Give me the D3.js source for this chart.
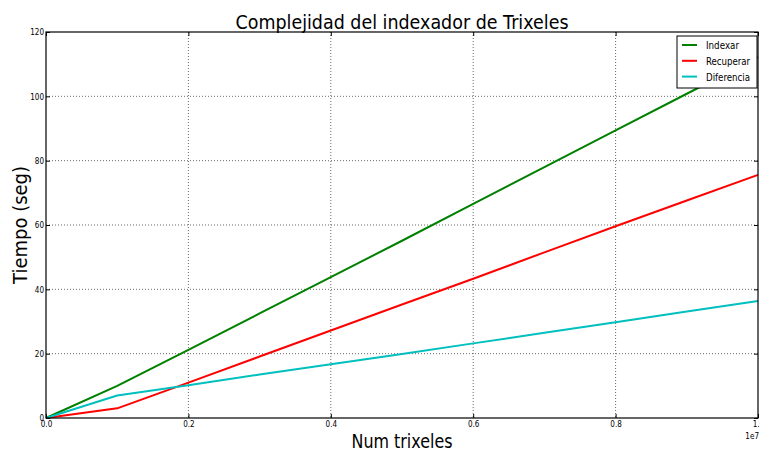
<!DOCTYPE html>
<html>
<head>
<meta charset="utf-8">
<script src="https://cdn.jsdelivr.net/npm/d3@7"></script>
<style>
  html, body { margin: 0; padding: 0; background: #fff; }
  svg { display: block; font-family: "DejaVu Sans", sans-serif; }
</style>
</head>
<body>
<svg id="chart" width="760" height="452"></svg>
<script>
// Number of trixels processed (x) and elapsed seconds for each phase
const numTrixeles = [0, 1e6, 2e6, 3e6, 4e6, 5e6, 6e6, 7e6, 8e6, 9e6, 1e7];
const indexar     = [0, 10.0, 21.2, 32.5, 43.8, 55.1, 66.6, 78.0, 89.4, 100.8, 112.2];
const recuperar   = [0, 3.0, 11.0, 19.1, 27.2, 35.3, 43.3, 51.5, 59.6, 67.6, 75.6];
const diferencia  = [0, 7.0, 10.2, 13.5, 16.7, 19.9, 23.2, 26.5, 29.8, 33.1, 36.4];

const seriesNames  = ["Indexar", "Recuperar", "Diferencia"];
const seriesColors = ["#008000", "#ff0000", "#00bfbf"];
const seriesValues = [indexar, recuperar, diferencia];

const xTicks = [0, 2e6, 4e6, 6e6, 8e6, 1e7];
const yTicks = [0, 20, 40, 60, 80, 100, 120];

const svg = d3.select("#chart");
const L = 46, R = 758, T = 32, B = 418;

const x = d3.scaleLinear().domain([0, 1e7]).range([L, R]);
const y = d3.scaleLinear().domain([0, 120]).range([B, T]);

// squeeze text horizontally (narrow glyphs)
function squeeze(sel, f) {
  sel.each(function () {
    const w = this.getComputedTextLength();
    this.setAttribute("textLength", (w * f).toFixed(2));
    this.setAttribute("lengthAdjust", "spacingAndGlyphs");
  });
}

// grid
const grid = svg.append("g").attr("stroke", "#444").attr("stroke-width", 0.8)
  .attr("stroke-dasharray", "1,2");
grid.selectAll("line.gx").data(xTicks.slice(1, -1)).join("line")
  .attr("x1", d => x(d)).attr("x2", d => x(d)).attr("y1", T).attr("y2", B);
grid.selectAll("line.gy").data(yTicks.slice(1, -1)).join("line")
  .attr("x1", L).attr("x2", R).attr("y1", d => y(d)).attr("y2", d => y(d));

// series lines
const line = d3.line().x((d, i) => x(numTrixeles[i])).y(d => y(d));
svg.append("g").selectAll("path").data(seriesValues).join("path")
  .attr("fill", "none")
  .attr("stroke", (d, i) => seriesColors[i])
  .attr("stroke-width", 2)
  .attr("stroke-linejoin", "round")
  .attr("d", line);

// axes (ticks pointing inward)
const fmtX = d => (d / 1e7).toFixed(1);
const gx = svg.append("g").attr("transform", `translate(0,${B})`)
  .call(d3.axisBottom(x).tickValues(xTicks).tickFormat(fmtX).tickSize(-4).tickSizeOuter(0).tickPadding(3));
const gxt = svg.append("g").attr("transform", `translate(0,${T})`)
  .call(d3.axisTop(x).tickValues(xTicks).tickFormat("").tickSize(-4).tickSizeOuter(0));
const gy = svg.append("g").attr("transform", `translate(${L},0)`)
  .call(d3.axisLeft(y).tickValues(yTicks).tickSize(-4).tickSizeOuter(0).tickPadding(2));
const gyr = svg.append("g").attr("transform", `translate(${R},0)`)
  .call(d3.axisRight(y).tickValues(yTicks).tickFormat("").tickSize(-4).tickSizeOuter(0));

[gx, gxt, gy, gyr].forEach(g => {
  g.select(".domain").remove();
  g.selectAll(".tick line").attr("stroke", "#000");
  g.selectAll("text").attr("font-size", 8.5).attr("fill", "#000")
    .attr("font-family", "DejaVu Sans, sans-serif");
});
squeeze(gx.selectAll("text"), 0.85);
squeeze(gy.selectAll("text"), 0.85);

// frame
svg.append("rect").attr("x", L).attr("y", T).attr("width", R - L).attr("height", B - T)
  .attr("fill", "none").attr("stroke", "#000").attr("stroke-width", 1.2);

// offset label for x scale
const off = svg.append("text").attr("x", 759).attr("y", 439).attr("text-anchor", "end")
  .attr("font-size", 8.5).text("1e7");
squeeze(off, 0.85);

// titles
const title = svg.append("text").attr("x", (L + R) / 2).attr("y", 29).attr("text-anchor", "middle")
  .attr("font-size", 20).text("Complejidad del indexador de Trixeles");
title.attr("textLength", 333).attr("lengthAdjust", "spacingAndGlyphs");

const xl = svg.append("text").attr("x", (L + R) / 2).attr("y", 448).attr("text-anchor", "middle")
  .attr("font-size", 20).text("Num trixeles");
xl.attr("textLength", 101).attr("lengthAdjust", "spacingAndGlyphs");

const yl = svg.append("text").attr("transform", `translate(27,${(T + B) / 2}) rotate(-90)`)
  .attr("text-anchor", "middle").attr("font-size", 19).text("Tiempo (seg)");
yl.attr("textLength", 118).attr("lengthAdjust", "spacingAndGlyphs");

// legend
const lg = svg.append("g").attr("transform", "translate(677,36)");
lg.append("rect").attr("width", 80).attr("height", 52)
  .attr("fill", "#fff").attr("stroke", "#000").attr("stroke-width", 1);
const lgWidths = [33, 44, 44];
const items = lg.selectAll("g.item").data(seriesNames).join("g")
  .attr("transform", (d, i) => `translate(0,${9 + i * 15.8})`);
items.append("line").attr("x1", 5).attr("x2", 20).attr("y1", 0).attr("y2", 0)
  .attr("stroke", (d, i) => seriesColors[i]).attr("stroke-width", 2);
items.append("text").attr("x", 29).attr("y", 4).attr("font-size", 11)
  .attr("textLength", (d, i) => lgWidths[i]).attr("lengthAdjust", "spacingAndGlyphs")
  .text(d => d);
</script>
</body>
</html>
